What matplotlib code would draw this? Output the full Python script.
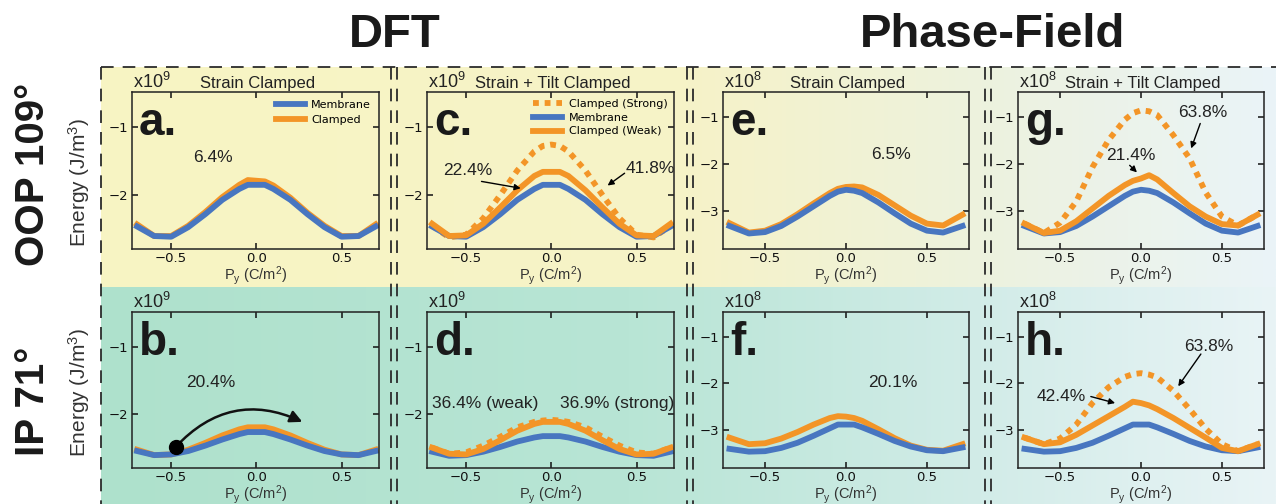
import numpy as np
import matplotlib
matplotlib.use('Agg')
import matplotlib.pyplot as plt
from matplotlib import font_manager

# ---------------- data ----------------
x_dft = [-0.7, -0.6, -0.5, -0.4, -0.3, -0.2, -0.1, -0.05, 0.0, 0.05, 0.1, 0.2, 0.3, 0.4, 0.5, 0.6, 0.7]
x_pf = [-0.72, -0.6, -0.5, -0.4, -0.3, -0.2, -0.1, -0.05, 0.0, 0.05, 0.1, 0.2, 0.3, 0.4, 0.5, 0.6, 0.72]

# DFT, OOP 109 (x1e9 J/m3)
a_membrane = [-2.46, -2.60, -2.61, -2.47, -2.28, -2.07, -1.91, -1.85, -1.85, -1.85, -1.91, -2.07, -2.28, -2.47, -2.61, -2.60, -2.46]
a_clamped = [-2.43, -2.60, -2.60, -2.45, -2.25, -2.03, -1.85, -1.78, -1.79, -1.80, -1.86, -2.04, -2.26, -2.45, -2.60, -2.60, -2.43]
c_membrane = [-2.46, -2.60, -2.61, -2.47, -2.28, -2.07, -1.91, -1.85, -1.85, -1.85, -1.91, -2.07, -2.28, -2.47, -2.61, -2.60, -2.46]
c_weak = [-2.42, -2.60, -2.59, -2.42, -2.18, -1.93, -1.72, -1.66, -1.66, -1.66, -1.72, -1.93, -2.18, -2.42, -2.59, -2.60, -2.42]
c_strong = [-2.45, -2.62, -2.58, -2.34, -2.00, -1.64, -1.36, -1.28, -1.26, -1.28, -1.36, -1.64, -2.00, -2.34, -2.58, -2.62, -2.45]
# DFT, IP 71
b_membrane = [-2.54, -2.60, -2.59, -2.54, -2.46, -2.37, -2.29, -2.26, -2.26, -2.26, -2.29, -2.37, -2.46, -2.54, -2.59, -2.60, -2.54]
b_clamped = [-2.52, -2.60, -2.59, -2.52, -2.42, -2.31, -2.22, -2.19, -2.19, -2.19, -2.22, -2.31, -2.42, -2.52, -2.59, -2.60, -2.52]
d_membrane = [-2.55, -2.61, -2.60, -2.55, -2.48, -2.40, -2.34, -2.32, -2.32, -2.32, -2.34, -2.40, -2.48, -2.55, -2.60, -2.61, -2.55]
d_weak = [-2.49, -2.58, -2.59, -2.51, -2.38, -2.24, -2.14, -2.11, -2.11, -2.11, -2.14, -2.24, -2.38, -2.51, -2.59, -2.58, -2.49]
d_strong = [-2.49, -2.58, -2.56, -2.46, -2.33, -2.19, -2.11, -2.09, -2.08, -2.09, -2.11, -2.19, -2.33, -2.46, -2.56, -2.58, -2.49]
# Phase-field, OOP 109 (x1e8 J/m3)
e_membrane = [-3.32, -3.48, -3.45, -3.32, -3.12, -2.90, -2.68, -2.59, -2.55, -2.57, -2.62, -2.82, -3.05, -3.27, -3.42, -3.46, -3.32]
e_clamped = [-3.26, -3.46, -3.42, -3.28, -3.07, -2.84, -2.62, -2.53, -2.49, -2.48, -2.50, -2.66, -2.88, -3.10, -3.27, -3.31, -3.08]
g_membrane = [-3.32, -3.48, -3.45, -3.32, -3.12, -2.90, -2.68, -2.59, -2.55, -2.57, -2.62, -2.82, -3.05, -3.27, -3.42, -3.46, -3.32]
g_weak = [-3.27, -3.47, -3.42, -3.22, -2.95, -2.68, -2.45, -2.36, -2.31, -2.24, -2.33, -2.62, -2.90, -3.12, -3.28, -3.31, -3.08]
g_strong = [-3.27, -3.47, -3.25, -2.80, -2.07, -1.49, -1.06, -0.92, -0.86, -0.88, -0.96, -1.39, -1.88, -2.61, -3.12, -3.31, -3.08]
# Phase-field, IP 71
f_membrane = [-3.40, -3.46, -3.45, -3.38, -3.27, -3.12, -2.96, -2.88, -2.88, -2.88, -2.94, -3.08, -3.23, -3.35, -3.43, -3.45, -3.37]
f_clamped = [-3.16, -3.30, -3.28, -3.18, -3.04, -2.88, -2.74, -2.70, -2.71, -2.74, -2.80, -2.98, -3.17, -3.33, -3.42, -3.44, -3.30]
h_membrane = [-3.40, -3.46, -3.45, -3.38, -3.27, -3.12, -2.96, -2.88, -2.88, -2.88, -2.94, -3.08, -3.23, -3.35, -3.43, -3.45, -3.37]
h_weak = [-3.16, -3.30, -3.26, -3.10, -2.90, -2.70, -2.50, -2.39, -2.42, -2.47, -2.55, -2.74, -2.95, -3.16, -3.38, -3.45, -3.30]
h_strong = [-3.16, -3.30, -3.18, -2.88, -2.42, -2.08, -1.86, -1.80, -1.78, -1.81, -1.87, -2.16, -2.55, -2.97, -3.30, -3.45, -3.30]

col_titles = ['DFT', 'Phase-Field']
row_titles = ['OOP 109°', 'IP 71°']
panel_letters = ['a.', 'c.', 'e.', 'g.', 'b.', 'd.', 'f.', 'h.']
panel_headers = ['Strain Clamped', 'Strain + Tilt Clamped', 'Strain Clamped', 'Strain + Tilt Clamped',
                 '', '', '', '']
scales = ['9', '9', '8', '8', '9', '9', '8', '8']

# ---------------- style ----------------
avail = {f.name for f in font_manager.fontManager.ttflist}
NARROW = 'Liberation Sans Narrow' if 'Liberation Sans Narrow' in avail else 'Liberation Sans'
plt.rcParams['mathtext.fontset'] = 'custom'
plt.rcParams['mathtext.rm'] = NARROW
plt.rcParams['mathtext.it'] = NARROW + ':italic'
plt.rcParams['mathtext.bf'] = NARROW + ':bold'
plt.rcParams['mathtext.default'] = 'rm'
plt.rcParams['font.family'] = ['DejaVu Sans']

BLUE = '#4876c0'
ORANGE = '#f39527'
W, H = 1276, 504
fig = plt.figure(figsize=(W / 100, H / 100), dpi=100)

# background gradient + dashed frames (pixel coordinates)
bg = fig.add_axes([0, 0, 1, 1], zorder=-5)
bg.axis('off')
xs = np.linspace(0, 1, 400)
top_stops = [(0, (248, 245, 195)), (0.5, (246, 243, 200)), (0.75, (237, 242, 222)), (1.0, (234, 244, 248))]
bot_stops = [(0, (174, 225, 204)), (0.45, (184, 229, 213)), (0.75, (210, 236, 232)), (1.0, (233, 244, 246))]
def grad(stops):
    p = [s[0] for s in stops]
    rgb = np.stack([np.interp(xs, p, [s[1][k] for s in stops]) for k in range(3)], axis=-1) / 255.0
    return rgb[None, :, :]
bg.imshow(grad(top_stops), extent=(101, W, 287, 67), aspect='auto', interpolation='bilinear')
bg.imshow(grad(bot_stops), extent=(101, W, H, 287), aspect='auto', interpolation='bilinear')
bg.set_xlim(0, W)
bg.set_ylim(H, 0)
dash_kw = dict(color='#2b2b2b', lw=1.3, dashes=(7, 5))
bg.plot([101, W], [67, 67], **dash_kw)
for xv in [101, 391, 397, 687, 693, 985, 991]:
    bg.plot([xv, xv], [67, H], **dash_kw)

# titles
title_kw = dict(ha='center', va='center', fontweight='bold', family=NARROW, color='#1a1a1a')
fig.text(395 / W, 1 - 35 / H, col_titles[0], fontsize=34, **title_kw)
fig.text(993 / W, 1 - 35 / H, col_titles[1], fontsize=34, **title_kw)
fig.text(33 / W, 1 - 174 / H, row_titles[0], rotation=90, fontsize=29, **title_kw)
fig.text(33 / W, 1 - 401 / H, row_titles[1], rotation=90, fontsize=29, **title_kw)
fig.text(79 / W, 1 - 182 / H, 'Energy (J/m$^3$)', ha='center', va='center', rotation=90,
         fontsize=15, family=NARROW, color='#333333')
fig.text(79 / W, 1 - 392 / H, 'Energy (J/m$^3$)', ha='center', va='center', rotation=90,
         fontsize=15, family=NARROW, color='#333333')

# axes
lefts = [132, 427, 723, 1018]
widths = [247, 247, 246, 246]
tops = [92, 312]
heights = [157, 156]
axes = []
for r in range(2):
    for c in range(4):
        ax = fig.add_axes([lefts[c] / W, 1 - (tops[r] + heights[r]) / H, widths[c] / W, heights[r] / H])
        ax.patch.set_alpha(0)
        axes.append(ax)

lw = 4.2
def style(ax, dft, idx):
    if dft:
        ax.set_xlim(-0.73, 0.72)
        ax.set_ylim(-2.79, -0.49)
        ax.set_yticks([-2, -1])
    else:
        ax.set_xlim(-0.76, 0.76)
        ax.set_ylim(-3.81, -0.47)
        ax.set_yticks([-3, -2, -1])
    ax.set_xticks([-0.5, 0.0, 0.5])
    ax.set_xticklabels(['\u22120.5', '0.0', '0.5'])
    ax.tick_params(direction='in', top=True, right=True, length=4, width=1.1,
                   labelsize=9.5, pad=2.5, colors='#111111')
    for s in ax.spines.values():
        s.set_linewidth(1.1)
        s.set_color('#222222')
    ax.set_xlabel('P$_y$ (C/m$^2$)', fontsize=10.5, family=NARROW, color='#333333', labelpad=-1)
    ax.annotate(panel_letters[idx], xy=(0, 1), xycoords='axes fraction', xytext=(7, -43),
                textcoords='offset pixels', fontsize=33, fontweight='bold', family=NARROW,
                color='#1a1a1a', va='baseline', ha='left')
    ax.annotate('x10$^{%s}$' % scales[idx], xy=(0, 1), xycoords='axes fraction', xytext=(1, 4),
                textcoords='offset pixels', fontsize=13, family=NARROW, color='#222222',
                va='baseline', ha='left')
    if panel_headers[idx]:
        ax.annotate(panel_headers[idx], xy=(0.5, 1), xycoords='axes fraction', xytext=(2, 4),
                    textcoords='offset pixels', fontsize=12, family=NARROW, color='#222222',
                    va='baseline', ha='center')

dot = (0, (1, 1))
pct_kw = dict(fontsize=12.5, family=NARROW, color='#222222', ha='center', va='center')
arr = dict(arrowstyle='-|>', color='black', lw=1.0, mutation_scale=9, shrinkA=0, shrinkB=0)

# a
ax = axes[0]
style(ax, True, 0)
lc, = ax.plot(x_dft, a_clamped, color=ORANGE, lw=lw, label='Clamped')
lm, = ax.plot(x_dft, a_membrane, color=BLUE, lw=lw, label='Membrane')
ax.legend(handles=[lm, lc], loc='upper right', frameon=False, fontsize=8, handlelength=2.6,
          handletextpad=0.6, labelspacing=0.45, borderaxespad=0.3)
ax.text(-0.254, -1.45, '6.4%', **pct_kw)

# c
ax = axes[1]
style(ax, True, 1)
ls, = ax.plot(x_dft, c_strong, color=ORANGE, lw=lw, linestyle=dot, label='Clamped (Strong)')
lm, = ax.plot(x_dft, c_membrane, color=BLUE, lw=lw, label='Membrane')
lw_, = ax.plot(x_dft, c_weak, color=ORANGE, lw=lw, label='Clamped (Weak)')
ax.legend(handles=[ls, lm, lw_], loc='upper right', frameon=False, fontsize=8, handlelength=2.6,
          handletextpad=0.6, labelspacing=0.35, borderaxespad=0.2)
ax.text(-0.49, -1.64, '22.4%', **pct_kw)
ax.annotate('', xy=(-0.18, -1.90), xytext=(-0.41, -1.80), arrowprops=arr)
ax.text(0.58, -1.61, '41.8%', **pct_kw)
ax.annotate('', xy=(0.33, -1.86), xytext=(0.43, -1.68), arrowprops=arr)

# e
ax = axes[2]
style(ax, False, 2)
ax.plot(x_pf, e_clamped, color=ORANGE, lw=lw)
ax.plot(x_pf, e_membrane, color=BLUE, lw=lw)
ax.text(0.28, -1.80, '6.5%', **pct_kw)

# g
ax = axes[3]
style(ax, False, 3)
ax.plot(x_pf, g_strong, color=ORANGE, lw=lw, linestyle=dot)
ax.plot(x_pf, g_membrane, color=BLUE, lw=lw)
ax.plot(x_pf, g_weak, color=ORANGE, lw=lw)
ax.text(0.38, -0.91, '63.8%', **pct_kw)
ax.annotate('', xy=(0.31, -1.67), xytext=(0.366, -1.14), arrowprops=arr)
ax.text(-0.06, -1.83, '21.4%', **pct_kw)
ax.annotate('', xy=(-0.025, -2.18), xytext=(-0.07, -2.03), arrowprops=arr)

# b
ax = axes[4]
style(ax, True, 4)
ax.plot(x_dft, b_clamped, color=ORANGE, lw=lw)
ax.plot(x_dft, b_membrane, color=BLUE, lw=lw)
ax.text(-0.27, -1.525, '20.4%', **pct_kw)
ax.plot([-0.474], [-2.48], 'o', color='black', ms=10, zorder=5)
ax.annotate('', xy=(0.27, -2.11), xytext=(-0.474, -2.48),
            arrowprops=dict(arrowstyle='-|>', color='#111111', lw=1.8, mutation_scale=18,
                            shrinkA=0, shrinkB=0, connectionstyle='arc3,rad=-0.36'))

# d
ax = axes[5]
style(ax, True, 5)
ax.plot(x_dft, d_strong, color=ORANGE, lw=lw, linestyle=dot)
ax.plot(x_dft, d_membrane, color=BLUE, lw=lw)
ax.plot(x_dft, d_weak, color=ORANGE, lw=lw)
ax.text(-0.39, -1.84, '36.4% (weak)', **pct_kw)
ax.text(0.385, -1.84, '36.9% (strong)', **pct_kw)

# f
ax = axes[6]
style(ax, False, 6)
ax.plot(x_pf, f_clamped, color=ORANGE, lw=lw)
ax.plot(x_pf, f_membrane, color=BLUE, lw=lw)
ax.text(0.29, -1.97, '20.1%', **pct_kw)

# h
ax = axes[7]
style(ax, False, 7)
ax.plot(x_pf, h_strong, color=ORANGE, lw=lw, linestyle=dot)
ax.plot(x_pf, h_membrane, color=BLUE, lw=lw)
ax.plot(x_pf, h_weak, color=ORANGE, lw=lw)
ax.text(0.42, -1.20, '63.8%', **pct_kw)
ax.annotate('', xy=(0.23, -2.06), xytext=(0.37, -1.37), arrowprops=arr)
ax.text(-0.49, -2.28, '42.4%', **pct_kw)
ax.annotate('', xy=(-0.16, -2.42), xytext=(-0.31, -2.28), arrowprops=arr)

fig.savefig('out.png', dpi=100)
